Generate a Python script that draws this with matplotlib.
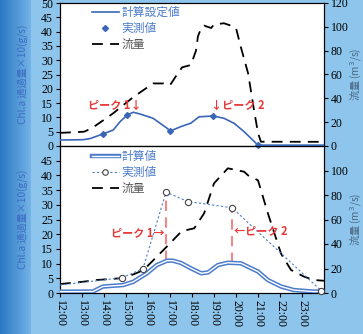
import numpy as np
import matplotlib
matplotlib.use("Agg")
import matplotlib.pyplot as plt
import matplotlib.patheffects as pe
from matplotlib.lines import Line2D

# ---------------- data ----------------
# top chart
top_calc_t = [12.0, 13.05, 13.37, 13.95, 14.42, 14.73, 15.05, 15.33, 15.63, 16.23, 16.87, 17.0, 17.5, 17.95, 18.32, 18.95, 19.45, 19.92, 20.37, 21.0, 24.0]
top_calc_v = [2.1, 2.2, 2.6, 4.2, 5.6, 8.5, 10.8, 11.8, 11.2, 9.7, 6.2, 5.2, 6.8, 8.0, 10.2, 10.5, 9.7, 7.9, 5.0, 0.3, 0.3]
top_meas_t = [13.95, 15.05, 17.0, 18.95, 21.0]
top_meas_v = [4.2, 10.8, 5.2, 10.5, 0.3]
top_flow_t = [12.0, 13.1, 13.45, 14.08, 14.42, 15.33, 15.8, 16.23, 16.7, 17.0, 17.32, 17.55, 17.95, 18.18, 18.27, 18.42, 18.55, 18.87, 19.0, 19.45, 19.77, 20.0, 20.22, 20.55, 20.82, 21.0, 21.13, 24.0]
top_flow_v = [11, 12, 15, 23, 27.5, 41, 47, 52.5, 52.5, 51, 60, 66, 68, 80, 92, 99, 101, 99, 102, 103, 101, 99, 83, 61, 30, 11, 3.6, 3.5]

# bottom chart
bot_calc_t = [12.0, 13.5, 13.95, 14.87, 15.33, 15.95, 16.4, 16.87, 17.13, 17.5, 17.95, 18.42, 18.73, 19.18, 19.63, 20.22, 20.55, 21.0, 21.45, 22.05, 22.63, 23.5, 24.0]
bot_calc_v = [0.45, 0.5, 2.2, 2.7, 3.8, 6.7, 9.5, 11.0, 11.0, 10.2, 8.4, 6.7, 7.0, 9.5, 10.3, 10.1, 8.9, 7.3, 4.4, 2.2, 1.0, 0.5, 0.5]
bot_meas_t = [12.0, 14.82, 15.77, 16.82, 17.82, 19.82, 23.87]
bot_meas_v = [2.7, 5.2, 8.3, 34.3, 31.1, 29.0, 0.8]
bot_flow_t = [12.0, 13.05, 13.67, 14.73, 15.17, 15.63, 15.95, 16.4, 17.0, 17.53, 18.1, 18.55, 19.0, 19.63, 20.13, 20.37, 20.55, 21.0, 21.45, 22.05, 22.5, 23.1, 23.55, 24.0]
bot_flow_v = [7.3, 9.2, 10.6, 12, 14, 17.4, 21.5, 29.6, 40.5, 50.5, 52.8, 65, 89.5, 101.8, 99.9, 99, 96, 92, 65, 32, 18.8, 13.3, 10.6, 10]

x_ticks = list(range(12, 24))
x_labels = ["%d:00" % h for h in x_ticks]

# --------------- style ---------------
plt.rcParams['font.family'] = ['Liberation Serif', 'Noto Sans CJK JP', 'DejaVu Sans']
CJK = ['Noto Sans CJK JP', 'DejaVu Sans']
blue = '#3a66b8'
lblue = '#4c7ccc'
ylab_blue = '#3d6cc2'
red = '#e83a3a'
pink = '#f08a8a'
tick_fs = 8.5

fig = plt.figure(figsize=(3.63, 3.34), dpi=100)

# background gradient
bg = fig.add_axes([0, 0, 1, 1], zorder=-10)
W = 363
grad = np.zeros((1, W, 3))
c_dark0 = np.array([0x2a, 0x78, 0xc4]) / 255
c_dark1 = np.array([0x72, 0xb2, 0xe6]) / 255
c_light = np.array([0x8e, 0xc5, 0xec]) / 255
for i in range(W):
    if i < 31:
        f = i / 30
        grad[0, i] = c_dark0 * (1 - f) + c_dark1 * f
    else:
        grad[0, i] = c_light
bg.imshow(grad, aspect='auto', extent=[0, 1, 0, 1])
bg.axis('off')

L, R = 60 / 363, 324 / 363
ax1 = fig.add_axes([L, 1 - 146 / 334, R - L, (146 - 3) / 334])
ax2 = fig.add_axes([L, 1 - 293 / 334, R - L, (293 - 146) / 334])

def style_left(ax, ticks):
    ax.set_ylim(0, 50)
    ax.set_yticks(ticks)
    ax.tick_params(axis='y', direction='out', labelsize=tick_fs, length=3, pad=2)
    ax.set_ylabel('Chl.a 通過量×10(g/s)', color=ylab_blue, fontsize=7.3, family=CJK)
    ax.yaxis.set_label_coords(-0.118, 0.5)
    ax.set_xlim(12, 24)

def style_right(axr):
    axr.set_ylim(0, 120)
    axr.set_yticks(range(0, 121, 20))
    axr.tick_params(axis='y', direction='out', labelsize=tick_fs, length=3, pad=2)
    axr.set_ylabel('流量 (m$^3$/s)', color='#4a6680', fontsize=7.3, family=CJK)
    axr.yaxis.set_label_coords(1.093, 0.5)

# -------- top chart --------
style_left(ax1, range(0, 51, 5))
ax1.set_xticks([])
ax1r = ax1.twinx()
style_right(ax1r)
ax1r.set_xlim(12, 24)
l1, = ax1.plot(top_calc_t, top_calc_v, color=blue, lw=1.2, zorder=3)
l2, = ax1.plot(top_meas_t, top_meas_v, ls='none', marker='D', ms=3, color=blue, zorder=4, clip_on=False)
l3, = ax1r.plot(top_flow_t, top_flow_v, color='black', lw=1.3, dashes=(6, 4))
leg = ax1.legend([l1, l2, l3], ['計算設定値', '実測値', '流量'], loc='upper left',
                 bbox_to_anchor=(0.08, 1.055), frameon=False, prop={'family': CJK, 'size': 8.5},
                 handlelength=2.3, labelspacing=0.25, handletextpad=0.2)
for t, c in zip(leg.get_texts(), [lblue, lblue, '#555555']):
    t.set_color(c)
ax1.text(14.5, 14.3, 'ピーク 1↓', color=red, fontsize=8, fontweight='bold', family=CJK, ha='center', va='center', zorder=6)
ax1.text(20.1, 14.3, '↓ピーク 2', color=red, fontsize=8, fontweight='bold', family=CJK, ha='center', va='center', zorder=6)
ax1.set_zorder(ax1r.get_zorder() + 1)
ax1.patch.set_visible(False)
ax1r.patch.set_facecolor('white')
ax1r.patch.set_visible(True)

# -------- bottom chart --------
style_left(ax2, range(0, 46, 5))
ax2.set_xticks(x_ticks)
ax2.set_xticklabels(x_labels, rotation=270, fontsize=tick_fs)
ax2.tick_params(axis='x', direction='out', length=3, pad=2)
ax2r = ax2.twinx()
style_right(ax2r)
ax2r.set_yticks(range(0, 101, 20))
ax2r.set_xlim(12, 24)

m1, = ax2.plot(bot_calc_t, bot_calc_v, color='white', lw=1.0, zorder=3,
               path_effects=[pe.Stroke(linewidth=3.2, foreground=lblue), pe.Normal()])
ax2.plot(bot_meas_t, bot_meas_v, color=lblue, lw=0.8, ls=(0, (2, 2)), zorder=3)
ax2.plot(bot_meas_t[1:], bot_meas_v[1:], ls='none', marker='o', ms=4.5, mfc='white',
         mec='#444444', mew=0.8, zorder=4, clip_on=False)
m2 = Line2D([], [], color=lblue, lw=0.8, ls=(0, (2, 2)), marker='o', ms=4, mfc='white', mec='#444444', mew=0.8)
m3, = ax2r.plot(bot_flow_t, bot_flow_v, color='black', lw=1.3, dashes=(6, 4))
leg2 = ax2.legend([m1, m2, m3], ['計算値', '実測値', '流量'], loc='upper left',
                  bbox_to_anchor=(0.08, 1.045), frameon=False, prop={'family': CJK, 'size': 8.5},
                  handlelength=2.3, labelspacing=0.25, handletextpad=0.2)
for t, c in zip(leg2.get_texts(), [lblue, lblue, '#555555']):
    t.set_color(c)

# peak markers
ax2.plot([bot_meas_t[3], bot_meas_t[3]], [11.0, bot_meas_v[3]], color=pink, lw=1.5, dashes=(5, 3), zorder=2)
ax2.plot([bot_meas_t[5], bot_meas_t[5]], [10.3, bot_meas_v[5]], color=pink, lw=1.5, dashes=(5, 3), zorder=2)
ax2.text(bot_meas_t[3] - 0.08, 20.7, 'ピーク 1→', color=red, fontsize=8, fontweight='bold', family=CJK, ha='right', va='center', zorder=6)
ax2.text(bot_meas_t[5] + 0.08, 21.4, '←ピーク 2', color=red, fontsize=8, fontweight='bold', family=CJK, ha='left', va='center', zorder=6)

ax2.set_zorder(ax2r.get_zorder() + 1)
ax2.patch.set_visible(False)
ax2r.patch.set_facecolor('white')
ax2r.patch.set_visible(True)
for a in (ax1, ax2):
    a.set_xlim(12, 24)

fig.savefig('out.png', dpi=100)
